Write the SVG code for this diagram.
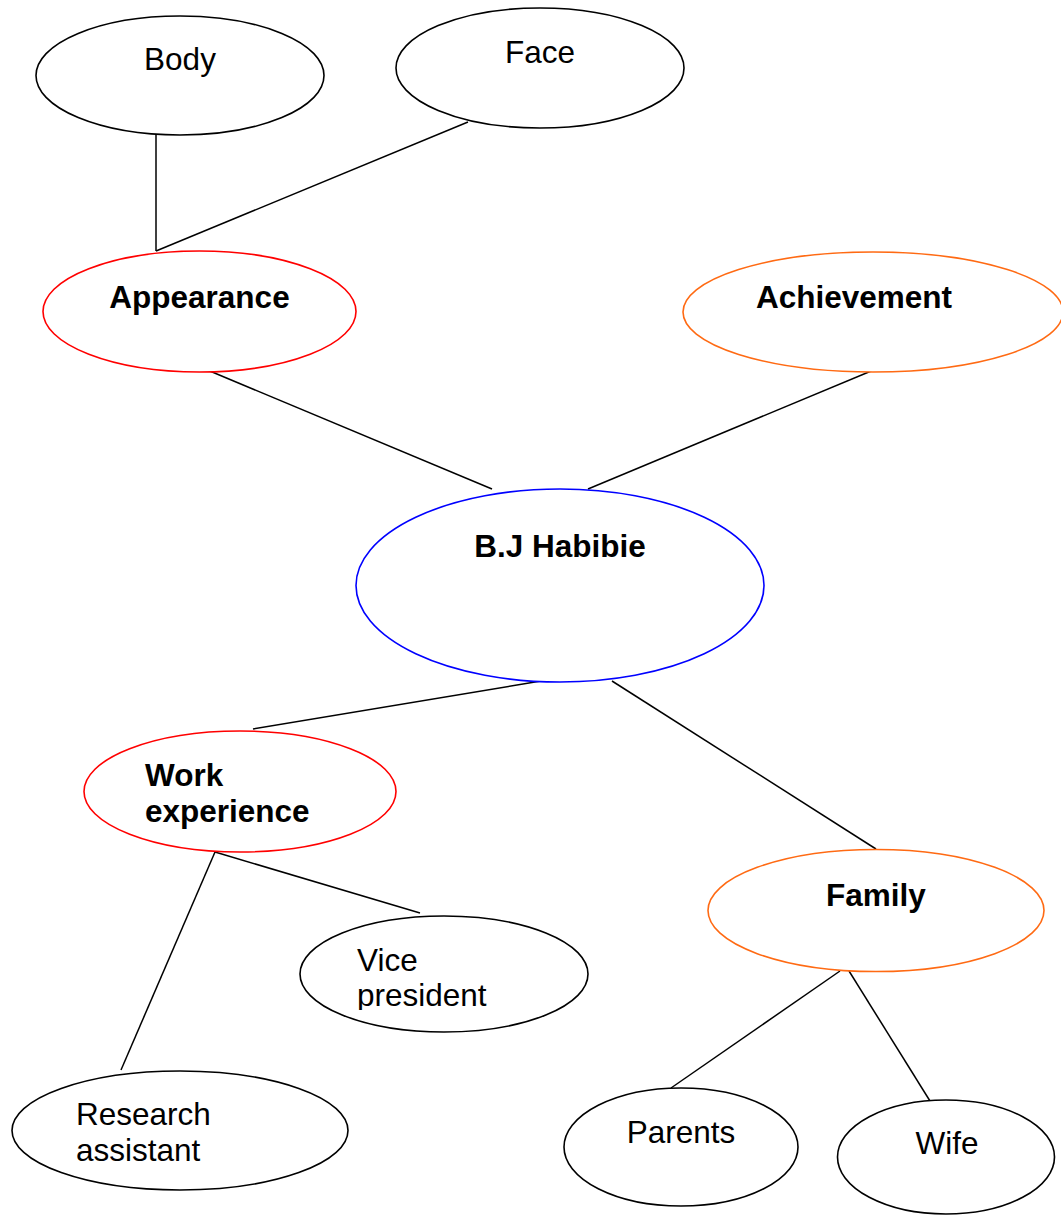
<svg xmlns="http://www.w3.org/2000/svg" width="1061" height="1215" viewBox="0 0 1061 1215">
<style>
.n{fill:#fff;stroke:#000;stroke-width:1.6}
.red{stroke:#ff0000}
.org{stroke:#ff6a13}
.blue{stroke:#0000ff}
text{font-family:"Liberation Sans",Arial,sans-serif;font-size:31.5px;fill:#000}
.b{font-weight:bold}
.c{text-anchor:middle}
#edges line{stroke:#000;stroke-width:1.5}
</style>
<defs>
<clipPath id="vpclip"><rect x="300" y="900" width="300" height="110"/></clipPath>
</defs>
<g id="edges">
<line x1="156" y1="128" x2="156" y2="251"/>
<line x1="468" y1="122" x2="156" y2="251"/>
<line x1="205" y1="369" x2="492" y2="489"/>
<line x1="876" y1="369" x2="588" y2="489"/>
<line x1="541" y1="681" x2="253" y2="729"/>
<line x1="612" y1="681" x2="876" y2="849"/>
<line x1="215" y1="852" x2="420" y2="913"/>
<line x1="215" y1="852" x2="121" y2="1070"/>
<line x1="840" y1="971" x2="671" y2="1088"/>
<line x1="849" y1="971" x2="930" y2="1101"/>
</g>
<g id="body"><ellipse class="n" cx="180" cy="75.5" rx="144" ry="59.5"/><text class="c" x="180" y="70">Body</text></g>
<g id="face"><ellipse class="n" cx="540" cy="68" rx="144" ry="60"/><text class="c" x="540" y="63">Face</text></g>
<g id="appearance"><ellipse class="n red" cx="199.5" cy="311.5" rx="156.5" ry="60.5"/><text class="b c" x="199.5" y="308">Appearance</text></g>
<g id="achievement"><ellipse class="n org" cx="873" cy="312" rx="190" ry="60"/><text class="b" x="756" y="308">Achievement</text></g>
<g id="habibie"><ellipse class="n blue" cx="560" cy="585.5" rx="204" ry="96.5"/><text class="b c" x="560" y="557">B.J Habibie</text></g>
<g id="work"><ellipse class="n red" cx="240" cy="791.5" rx="156" ry="60.5"/><text class="b" x="145" y="786">Work</text><text class="b" x="145" y="822">experience</text></g>
<g id="family"><ellipse class="n org" cx="876" cy="910.5" rx="168" ry="61"/><text class="b c" x="876" y="906">Family</text></g>
<g id="vice"><ellipse class="n" cx="444" cy="974" rx="144" ry="58"/><g clip-path="url(#vpclip)"><text x="357" y="971">Vice</text><text x="357" y="1006">president</text></g></g>
<g id="research"><ellipse class="n" cx="180" cy="1130.5" rx="168" ry="59.5"/><text x="76" y="1125">Research</text><text x="76" y="1161">assistant</text></g>
<g id="parents"><ellipse class="n" cx="681" cy="1147" rx="117" ry="59"/><text class="c" x="681" y="1143">Parents</text></g>
<g id="wife"><ellipse class="n" cx="946" cy="1157" rx="108.5" ry="57"/><text class="c" x="947" y="1154">Wife</text></g>
</svg>
